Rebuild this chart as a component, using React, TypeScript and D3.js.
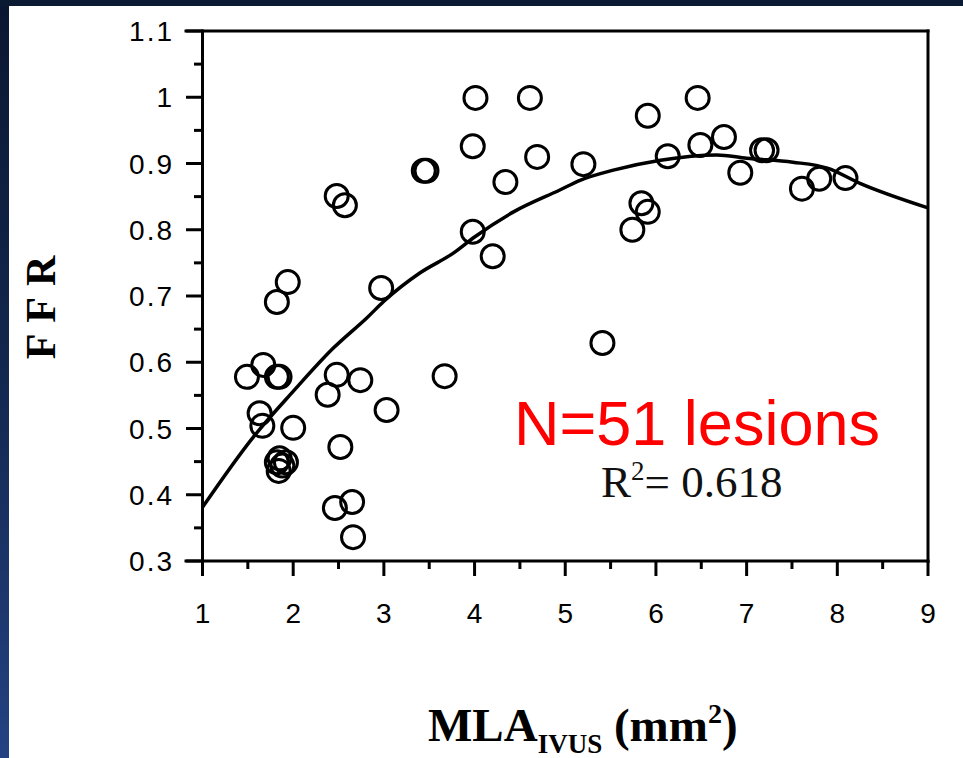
import React from "react";
import * as d3 from "d3";

const mlaValues = [
  1.49, 1.67, 1.82, 1.85, 1.63, 1.66, 2.0, 1.82, 1.94,
  1.82, 1.85, 1.88, 1.84, 1.92,
  2.48, 2.38, 2.74, 3.03, 2.52, 2.46, 2.65, 2.66, 2.97, 2.48, 2.57,
  3.44, 3.47, 3.67, 3.98, 3.98, 4.01, 4.2, 4.34, 4.69, 4.61,
  5.2, 5.41, 5.91, 6.46, 6.13, 6.49, 6.75, 7.17, 7.22, 6.93,
  7.61, 7.8, 8.09, 5.84, 5.91, 5.74,
];
const ffrValues = [
  0.578, 0.596, 0.578, 0.578, 0.523, 0.504, 0.501, 0.691, 0.721,
  0.449, 0.455, 0.444, 0.436, 0.449,
  0.581, 0.551, 0.573, 0.528, 0.472, 0.38, 0.389, 0.336, 0.712, 0.851, 0.837,
  0.889, 0.889, 0.579, 0.797, 0.926, 0.999, 0.76, 0.872, 0.91, 0.999,
  0.899, 0.629, 0.972, 0.999, 0.911, 0.928, 0.94, 0.92, 0.92, 0.886,
  0.862, 0.877, 0.878, 0.84, 0.827, 0.8,
];

const fitX = [1, 1.56, 2.0, 2.44, 2.82, 3.0, 3.4, 3.77, 4.0, 4.43, 4.94, 5.17, 5.53, 6.05, 6.67, 7.0, 7.51, 7.89, 8.25, 9];
const fitY = [0.381, 0.487, 0.556, 0.621, 0.668, 0.692, 0.735, 0.765, 0.789, 0.827, 0.86, 0.875, 0.89, 0.905, 0.913, 0.908, 0.902, 0.893, 0.87, 0.833];

const xTickLabels = ["1", "2", "3", "4", "5", "6", "7", "8", "9"];
const yTickLabels = ["0.3", "0.4", "0.5", "0.6", "0.7", "0.8", "0.9", "1", "1.1"];

const W = 963;
const H = 758;

export default function App() {
  const x = d3.scaleLinear().domain([1, 9]).range([202.5, 928]);
  const y = d3.scaleLinear().domain([0.3, 1.1]).range([561, 31]);

  const xMinor = d3.range(1.5, 9, 1);
  const yMinor = d3.range(0.35, 1.1, 0.1);

  const line = d3
    .line<number>()
    .x((_, i) => x(fitX[i]))
    .y((d) => y(d))
    .curve(d3.curveMonotoneX);

  const sans = "'Liberation Sans', Arial, sans-serif";
  const serif = "'Liberation Serif', 'Times New Roman', serif";

  return (
    <svg
      width={W}
      height={H}
      style={{ position: "absolute", left: 0, top: 0, display: "block" }}
    >
      <defs>
        <linearGradient id="bgGrad" x1="0" y1="0" x2="0" y2="1">
          <stop offset="0" stopColor="#0a1731" />
          <stop offset="0.5" stopColor="#13284f" />
          <stop offset="1" stopColor="#244283" />
        </linearGradient>
      </defs>
      <rect x={0} y={0} width={W} height={H} fill="url(#bgGrad)" />
      <rect x={0} y={0} width={W} height={6} fill="#0b1a33" />
      <rect x={9} y={6} width={W - 9} height={H - 6} fill="#ffffff" />

      {/* frame */}
      <g stroke="#000" strokeWidth={3} fill="none" strokeLinecap="square">
        <line x1={186} y1={y(1.1)} x2={x(9)} y2={y(1.1)} />
        <line x1={x(9)} y1={y(1.1)} x2={x(9)} y2={y(0.3)} />
        <line x1={186} y1={y(0.3)} x2={x(9)} y2={y(0.3)} />
        <line x1={x(1)} y1={y(1.1)} x2={x(1)} y2={y(0.3)} />
      </g>

      {/* ticks */}
      <g stroke="#000" strokeWidth={3}>
        {yTickLabels.map((t) => (
          <line key={"ym" + t} x1={186} x2={x(1)} y1={y(+t)} y2={y(+t)} />
        ))}
        {yMinor.map((v) => (
          <line key={"yn" + v} x1={194} x2={x(1)} y1={y(v)} y2={y(v)} />
        ))}
        {xTickLabels.map((t) => (
          <line key={"xm" + t} x1={x(+t)} x2={x(+t)} y1={y(0.3)} y2={y(0.3) + 15} />
        ))}
        {xMinor.map((v) => (
          <line key={"xn" + v} x1={x(v)} x2={x(v)} y1={y(0.3)} y2={y(0.3) + 8} />
        ))}
      </g>

      {/* y tick labels */}
      <g fontFamily={sans} fontSize={28} fill="#000" textAnchor="end">
        {yTickLabels.map((t) => (
          <text key={t} x={174} y={y(+t) + 10} letterSpacing={2}>
            {t}
          </text>
        ))}
      </g>
      {/* x tick labels */}
      <g fontFamily={sans} fontSize={28} fill="#000" textAnchor="middle">
        {xTickLabels.map((t) => (
          <text key={t} x={x(+t)} y={623}>
            {t}
          </text>
        ))}
      </g>

      {/* fit curve */}
      <path d={line(fitY) || ""} fill="none" stroke="#000" strokeWidth={3.5} />

      {/* points */}
      <g fill="none" stroke="#000" strokeWidth={3}>
        {mlaValues.map((m, i) => (
          <circle key={i} cx={x(m)} cy={y(ffrValues[i])} r={11.5} />
        ))}
      </g>

      {/* annotations */}
      <text x={514} y={445} fontFamily={sans} fontSize={63} fill="#ff0000">
        N=51 lesions
      </text>
      <text x={601} y={497} fontFamily={serif} fontSize={45} fill="#111">
        R<tspan fontSize={27} dy={-17}>2</tspan>
        <tspan dy={17}>= 0.618</tspan>
      </text>

      {/* axis titles */}
      <text
        transform={`translate(55,307) rotate(-90)`}
        textAnchor="middle"
        fontFamily={serif}
        fontWeight="bold"
        fontSize={42}
        fill="#000"
        letterSpacing={1}
      >
        F F R
      </text>
      <text x={428} y={741} fontFamily={serif} fontWeight="bold" fontSize={47} fill="#000">
        MLA
        <tspan fontSize={27} dy={12}>IVUS</tspan>
        <tspan dy={-12}> (mm</tspan>
        <tspan fontSize={28} dy={-18}>2</tspan>
        <tspan dy={18}>)</tspan>
      </text>
    </svg>
  );
}
